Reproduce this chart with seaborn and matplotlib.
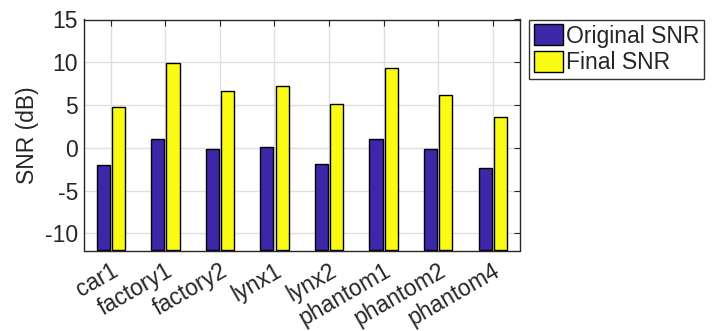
import matplotlib
matplotlib.use("Agg")
import matplotlib.pyplot as plt
import matplotlib.transforms as mtransforms
import seaborn as sns
import pandas as pd

categories = ["car1", "factory1", "factory2", "lynx1", "lynx2", "phantom1", "phantom2", "phantom4"]
original_snr = [-1.95, 1.05, -0.15, 0.05, -1.85, 1.0, -0.1, -2.35]
final_snr = [4.75, 9.9, 6.7, 7.25, 5.15, 9.3, 6.2, 3.6]
series_names = ["Original SNR", "Final SNR"]
yticks = [-10, -5, 0, 5, 10, 15]

df = pd.DataFrame({
    "cat": categories * 2,
    "val": original_snr + final_snr,
    "series": [series_names[0]] * len(categories) + [series_names[1]] * len(categories),
})

sns.set_style("white")
plt.rcParams["font.family"] = ["Liberation Sans", "DejaVu Sans"]

FS = 16.5
fig = plt.figure(figsize=(7.12, 3.31), dpi=100)
ax = fig.add_axes([83.5 / 712, 1 - 250.5 / 331, (520 - 83.5) / 712, (250.5 - 19.5) / 331])

palette = {"Original SNR": "#3E26A8", "Final SNR": "#F9FB15"}
sns.barplot(data=df, x="cat", y="val", hue="series", palette=palette, ax=ax,
            width=0.56, gap=0.14, edgecolor="black", linewidth=1.0, saturation=1,
            legend=True)

ymin = -12
# MATLAB-style bars: drawn from the bottom of the axes up to the value
for p in ax.patches:
    if p.get_width() <= 0:
        continue
    h = p.get_height()
    top = p.get_y() + h
    p.set_y(ymin)
    p.set_height(top - ymin)

ax.set_xlim(-0.5, 7.5)
ax.set_ylim(ymin, 15)
ax.set_yticks(yticks)
ax.set_yticklabels([str(t) for t in yticks], fontsize=FS)
ax.set_xticks(range(len(categories)))
ax.set_xticklabels(categories, fontsize=FS, rotation=30, ha="right", rotation_mode="anchor")
offset = mtransforms.ScaledTranslation(8 / 100, 0, fig.dpi_scale_trans)
for lab in ax.get_xticklabels():
    lab.set_transform(lab.get_transform() + offset)
ax.set_xlabel("")
ax.set_ylabel("SNR (dB)", fontsize=FS)
ax.grid(True, color="#E0E0E0", linewidth=1.0)
ax.set_axisbelow(True)
for s in ax.spines.values():
    s.set_color("#262626")
    s.set_linewidth(1.0)
ax.tick_params(axis="both", direction="in", length=4, color="#262626",
               top=True, right=True, labelcolor="#262626", pad=4)
ax.tick_params(axis="x", pad=6.5)

leg = ax.legend(loc="upper left", bbox_to_anchor=(529 / 712, 1 - 19.5 / 331),
                bbox_transform=fig.transFigure, fontsize=FS, frameon=True,
                fancybox=False, edgecolor="black", handlelength=1.3, handleheight=1.05,
                handletextpad=0.1, borderpad=0.2, labelspacing=0.15, borderaxespad=0)
leg.get_frame().set_linewidth(1.0)

fig.savefig("out.png", dpi=100)
